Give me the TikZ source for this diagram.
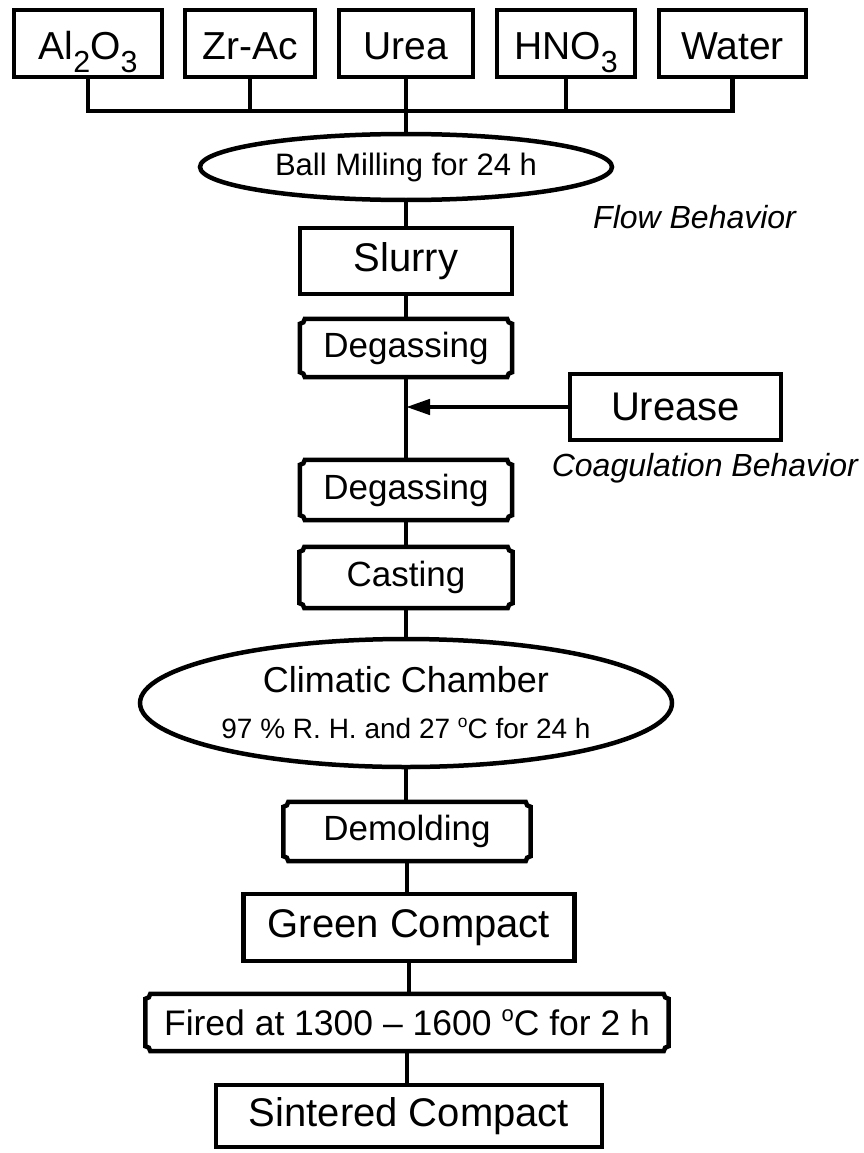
\documentclass[tikz,border=0pt]{standalone}
\usepackage{fontspec}
\setmainfont{Liberation Sans}
\usepackage{graphicx}
\usetikzlibrary{shapes.geometric,arrows.meta,calc}
\newcommand\fs[1]{\fontsize{#1}{#1}\selectfont}
\newcommand\mysub[1]{\raisebox{-0.32em}{\scalebox{0.78}{#1}}}
\newcommand\mysup[1]{\raisebox{0.40em}{\scalebox{0.62}{#1}}}
\tikzset{
  ln/.style={line width=4.5pt},
  box/.style={draw, line width=4.5pt, rectangle, inner sep=0pt, align=center},
  topbox/.style={box, minimum height=67, font=\fs{39}, text height=36, text depth=3},
  nbox/.style={rectangle, inner sep=0pt, align=center},
  oval/.style={draw, ellipse, line width=4.5pt, inner sep=0pt, align=center},
  note/.style={inner sep=0pt, font=\fontsize{32}{32}\selectfont\itshape},
}
\begin{document}
\begin{tikzpicture}[x=1pt,y=1pt]
\useasboundingbox (0,0) rectangle (864,-1153);
% raw materials
\node[topbox, minimum width=148] (al) at (88,-43.5) {Al\mysub{2}O\mysub{3}};
\node[topbox, minimum width=130] (zr) at (250,-43.5) {Zr-Ac};
\node[topbox, minimum width=134] (urea) at (406,-43.5) {Urea};
\node[topbox, minimum width=138] (hno) at (566,-43.5) {HNO\mysub{3}};
\node[topbox, minimum width=147] (water) at (732.5,-43.5) {Water};
\coordinate (bus) at (0,-111);
% process chain
\node[oval, minimum width=412, minimum height=66, font=\fs{31}] (ball) at (406,-167) {Ball Milling for 24 h};
\node[box, minimum width=212, minimum height=66, font=\fs{40}] (slurry) at (406,-261) {Slurry};
\node[nbox, minimum width=212, minimum height=58, font=\fs{35}] (deg1) at (406,-348) {Degassing};
\node[box, minimum width=211, minimum height=66, font=\fs{40}] (urease) at (675.5,-407) {Urease};
\node[nbox, minimum width=212, minimum height=60, font=\fs{35}] (deg2) at (406,-490) {Degassing};
\node[nbox, minimum width=213, minimum height=61, font=\fs{35}] (cast) at (406,-577.5) {Casting};
\node[oval, minimum width=532, minimum height=128, font=\fontsize{36}{46}\selectfont] (clim) at (406,-703)
  {Climatic Chamber\\{\fs{28}97 \% R. H. and 27 \mysup{o}C for 24 h}};
\node[nbox, minimum width=247, minimum height=59, font=\fs{35}] (demold) at (407,-831.5) {Demolding};
\node[box, minimum width=331, minimum height=67, font=\fs{40}] (green) at (409,-927.5) {Green Compact};
\node[nbox, minimum width=523, minimum height=57, font=\fs{35.5}] (fired) at (407,-1022.5) {Fired at 1300 -- 1600 \mysup{o}C for 2 h};
\node[box, minimum width=386, minimum height=62, font=\fs{40}] (sint) at (409,-1116) {Sintered Compact};
% notes
\node[note, anchor=base west] (flow) at (593,-228) {Flow Behavior};
\node[note, anchor=base east] (coag) at (858,-476) {Coagulation Behavior};
% notched outlines
\def\nr{5}
\foreach \n in {deg1,deg2,cast,demold,fired}{
  \draw[ln] ([yshift=-\nr pt]\n.north west) arc[start angle=270,end angle=360,radius=\nr]
    -- ([xshift=-\nr pt]\n.north east) arc[start angle=180,end angle=270,radius=\nr]
    -- ([yshift=\nr pt]\n.south east) arc[start angle=90,end angle=180,radius=\nr]
    -- ([xshift=\nr pt]\n.south west) arc[start angle=0,end angle=90,radius=\nr]
    -- cycle;
}
% connectors
\foreach \n in {al,zr,urea,hno,water}{\draw[ln] (\n.south) -- (\n.south |- bus);}
\draw[ln, line cap=rect] (al.south |- bus) -- (water.south |- bus);
\draw[ln] (urea.south |- bus) -- (ball.north);
\draw[ln] (ball.south) -- (slurry.north);
\draw[ln] (slurry.south) -- (deg1.north);
\draw[ln] (deg1.south) -- (deg2.north);
\draw[ln, -{Triangle[length=24pt,width=15pt]}] (urease.west) -- (urease.west -| deg1.south);
\draw[ln] (deg2.south) -- (cast.north);
\draw[ln] (cast.south) -- (clim.north);
\draw[ln] (clim.south) -- (clim.south |- demold.north);
\draw[ln] (demold.south) -- (demold.south |- green.north);
\draw[ln] (green.south) -- (green.south |- fired.north);
\draw[ln] (fired.south) -- (fired.south |- sint.north);
\end{tikzpicture}
\end{document}
